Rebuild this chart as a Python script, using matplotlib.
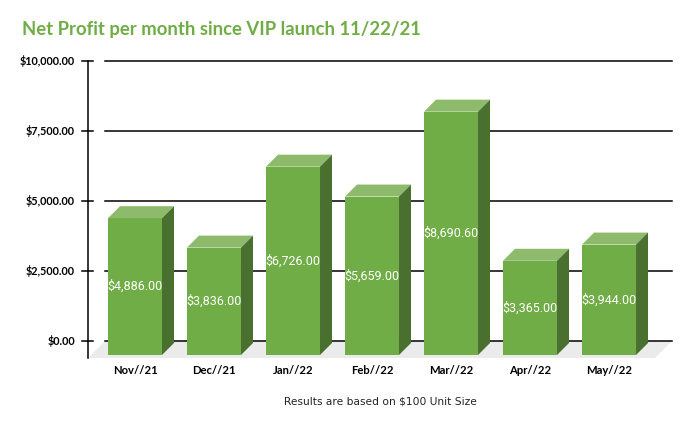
"""Net profit per month since VIP launch, drawn as Excel-style 3D columns."""

import matplotlib

matplotlib.use("Agg")

import matplotlib.pyplot as plt
from matplotlib.patches import Polygon

MONTHS = ["Nov//21", "Dec//21", "Jan//22", "Feb//22", "Mar//22", "Apr//22", "May//22"]
PROFIT = [4886.00, 3836.00, 6726.00, 5659.00, 8690.60, 3365.00, 3944.00]
Y_TICKS = [0, 2500, 5000, 7500, 10000]

TITLE = "Net Profit per month since VIP launch 11/22/21"
FOOTNOTE = "Results are based on $100 Unit Size"

FRONT = "#70ad47"
TOP = "#8dbb6b"
SIDE = "#4a7030"
FLOOR = "#ebebeb"

W, H = 693, 429
X_LIM = (-0.557, 6.62)
Y_LIM = (0, 10000)


def main() -> None:
    fig = plt.figure(figsize=(W / 100, H / 100), dpi=100)
    # back wall of the plot area, in pixels: x 105..672, y 61..341
    ax = fig.add_axes([105 / W, (H - 341) / H, 567 / W, 280 / H])
    ax.set_xlim(*X_LIM)
    ax.set_ylim(*Y_LIM)
    ax.axis("off")

    # pixel -> data units
    px = (X_LIM[1] - X_LIM[0]) / 567
    py = (Y_LIM[1] - Y_LIM[0]) / 280

    floor_depth = 17
    xl, xr = X_LIM
    floor = Polygon(
        [(xl, 0), (xr, 0), (xr - floor_depth * px, -floor_depth * py), (xl - floor_depth * px, -floor_depth * py)],
        closed=True, facecolor=FLOOR, edgecolor="none", zorder=0, clip_on=False,
    )
    ax.add_patch(floor)

    for v in Y_TICKS:
        ax.plot([xl, xr], [v, v], color="black", lw=1.1, zorder=1, clip_on=False)

    # vertical axis sits on the front edge of the floor
    ax_x = xl - floor_depth * px
    ax.plot([ax_x, ax_x], [Y_TICKS[-1], -floor_depth * py], color="black", lw=1.1, zorder=1, clip_on=False)
    for v in Y_TICKS:
        ax.plot([ax_x - 6 * px, ax_x + 5 * px], [v, v], color="black", lw=1.1, zorder=1, clip_on=False)
        ax.text(ax_x - 13 * px, v, f"${v:,.2f}", ha="right", va="center",
                fontsize=7.8, fontweight="bold", family="Lato", color="black")

    front_off, back_off = 14, 2
    depth = front_off - back_off
    bw = 54 * px
    for i, (month, val) in enumerate(zip(MONTHS, PROFIT)):
        cx = i - front_off * px
        y0 = -front_off * py
        y1 = val - front_off * py
        x0, x1 = cx - bw / 2, cx + bw / 2
        ddx, ddy = depth * px, depth * py
        ax.add_patch(Polygon([(x0, y0), (x1, y0), (x1, y1), (x0, y1)],
                             facecolor=FRONT, edgecolor="none", zorder=3, clip_on=False))
        ax.add_patch(Polygon([(x0, y1), (x1, y1), (x1 + ddx, y1 + ddy), (x0 + ddx, y1 + ddy)],
                             facecolor=TOP, edgecolor="none", zorder=3, clip_on=False))
        ax.add_patch(Polygon([(x1, y0), (x1 + ddx, y0 + ddy), (x1 + ddx, y1 + ddy), (x1, y1)],
                             facecolor=SIDE, edgecolor="none", zorder=3, clip_on=False))
        ax.text(cx, (y0 + y1) / 2, f"${val:,.2f}", ha="center", va="center",
                fontsize=9, family="Roboto", color="white", zorder=4)
        ax.text(cx, -30 * py, month, ha="center", va="center",
                fontsize=8.1, fontweight="bold", family="Lato", color="black")

    fig.text(22 / W, 1 - 30 / H, TITLE, ha="left", va="center",
             fontsize=13.3, fontweight="bold", family="Lato", color="#70ad47")
    fig.text(380 / W, 1 - 401 / H, FOOTNOTE, ha="center", va="center",
             fontsize=7.7, family="DejaVu Sans", color="#222222")

    fig.savefig("out.png", dpi=100, facecolor="white")
    plt.close(fig)


if __name__ == "__main__":
    main()
